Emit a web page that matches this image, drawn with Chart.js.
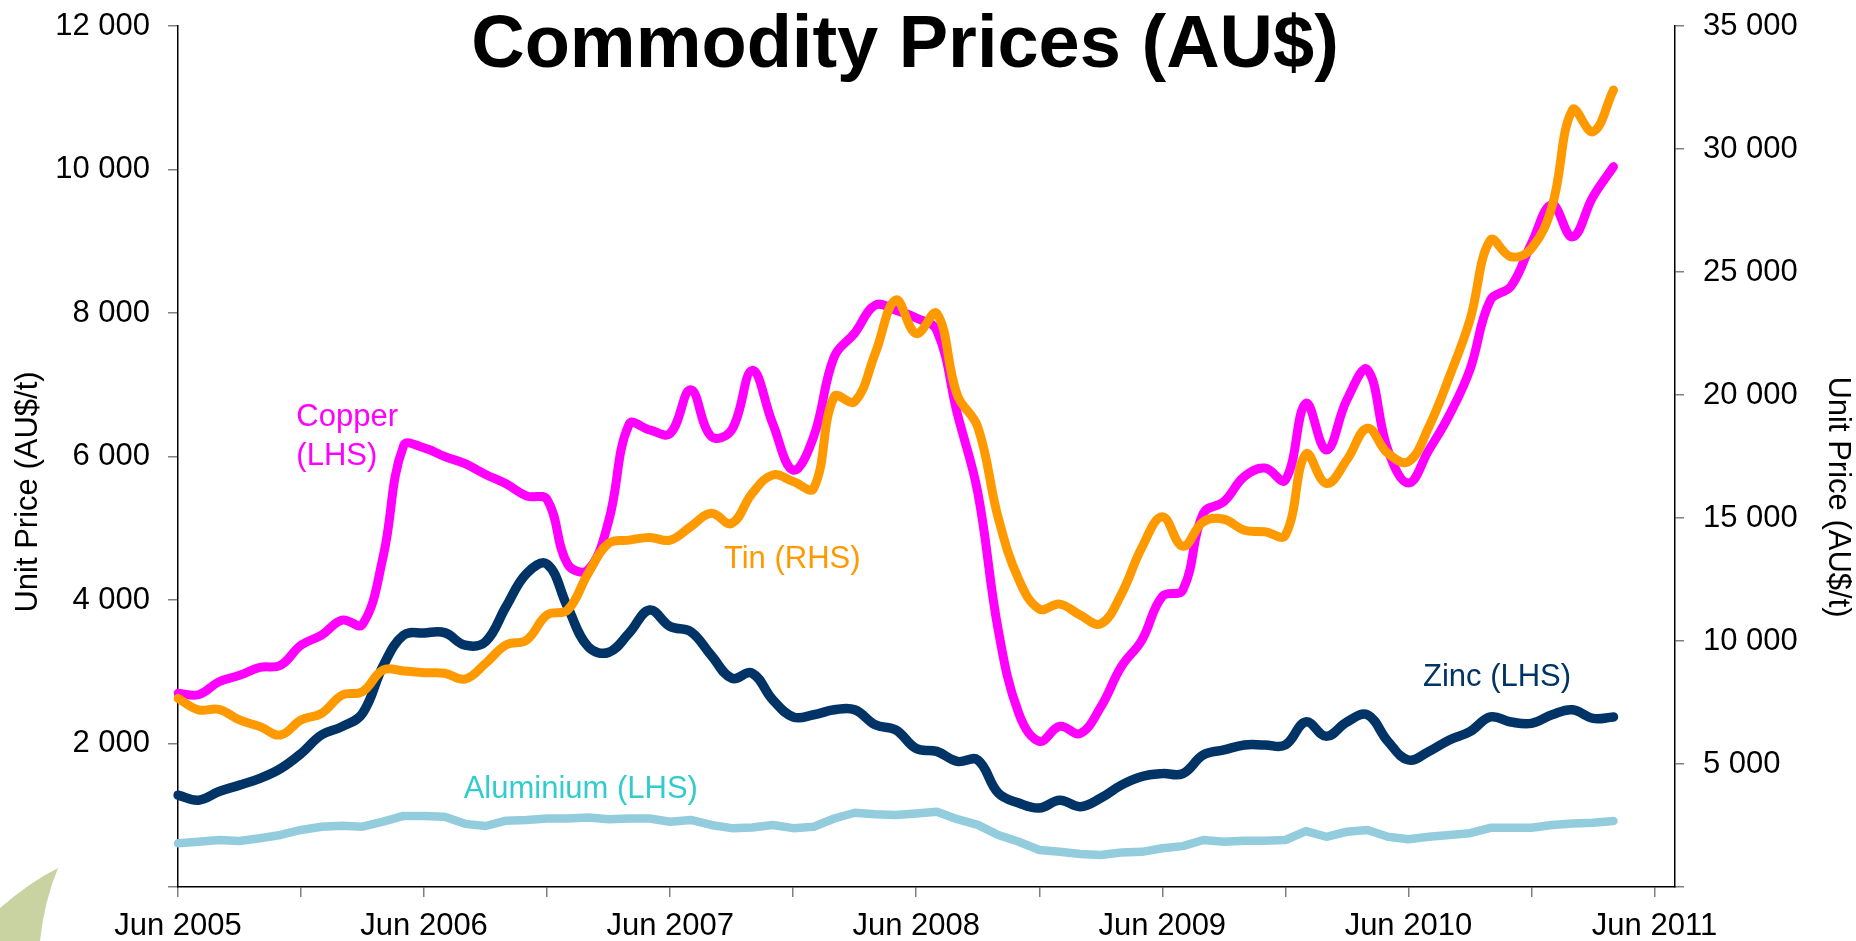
<!DOCTYPE html>
<html>
<head>
<meta charset="utf-8">
<title>Commodity Prices (AU$)</title>
<script src="https://cdn.jsdelivr.net/npm/chart.js@4.4.1/dist/chart.umd.min.js"></script>
<style>
  html, body { margin: 0; padding: 0; background: #fff; }
  #wrap { width: 1856px; height: 941px; position: relative; }
</style>
</head>
<body>
<div id="wrap"><canvas id="chart"></canvas></div>
<script>
// --- Data (monthly, Jun 2005 onwards) ---
const months = [
  'Jun 2005', 'Jul 2005', 'Aug 2005', 'Sep 2005', 'Oct 2005', 'Nov 2005', 'Dec 2005',
  'Jan 2006', 'Feb 2006', 'Mar 2006', 'Apr 2006', 'May 2006', 'Jun 2006', 'Jul 2006', 'Aug 2006', 'Sep 2006', 'Oct 2006', 'Nov 2006', 'Dec 2006',
  'Jan 2007', 'Feb 2007', 'Mar 2007', 'Apr 2007', 'May 2007', 'Jun 2007', 'Jul 2007', 'Aug 2007', 'Sep 2007', 'Oct 2007', 'Nov 2007', 'Dec 2007',
  'Jan 2008', 'Feb 2008', 'Mar 2008', 'Apr 2008', 'May 2008', 'Jun 2008', 'Jul 2008', 'Aug 2008', 'Sep 2008', 'Oct 2008', 'Nov 2008', 'Dec 2008',
  'Jan 2009', 'Feb 2009', 'Mar 2009', 'Apr 2009', 'May 2009', 'Jun 2009', 'Jul 2009', 'Aug 2009', 'Sep 2009', 'Oct 2009', 'Nov 2009', 'Dec 2009',
  'Jan 2010', 'Feb 2010', 'Mar 2010', 'Apr 2010', 'May 2010', 'Jun 2010', 'Jul 2010', 'Aug 2010', 'Sep 2010', 'Oct 2010', 'Nov 2010', 'Dec 2010',
  'Jan 2011', 'Feb 2011', 'Mar 2011', 'Apr 2011', 'May 2011', 'Jun 2011', 'Jul 2011'
]

// LHS, AU$/t
const copper = [
  2700, 2680, 2860, 2950, 3060, 3090, 3370, 3510, 3720, 3660, 4600, 6150, 6120, 6000, 5900, 5750,
  5620, 5450, 5400, 4500, 4420, 5100, 6450, 6370, 6320, 6930, 6280, 6370, 7200, 6460, 5810, 6280,
  7390, 7720, 8110, 8040, 7930, 7760, 6600, 5500, 3580, 2420, 2030, 2240, 2140, 2510, 3070, 3440,
  4050, 4140, 5210, 5370, 5720, 5840, 5670, 6740, 6090, 6790, 7210, 6090, 5630, 6090, 6580, 7210,
  8180, 8370, 8970, 9510, 9060, 9620, 10040
]
const zinc = [
  1280, 1210, 1330, 1420, 1515, 1650, 1860, 2120, 2235, 2420, 3080, 3510, 3540, 3545, 3370, 3420,
  3910, 4370, 4500, 3900, 3350, 3270, 3540, 3860, 3630, 3560, 3230, 2910, 2980, 2610, 2370, 2400,
  2470, 2470, 2260, 2190, 1930, 1890, 1750, 1770, 1310, 1170, 1100, 1210, 1120, 1240, 1420, 1540,
  1580, 1580, 1840, 1910, 1980, 1980, 1980, 2300, 2100, 2300, 2400, 2030, 1770, 1890, 2050, 2165,
  2370, 2300, 2280, 2400, 2470, 2350, 2370
]
const aluminium = [
  610, 630, 655, 640, 680, 725, 795, 840, 855, 840, 910, 990, 990, 980, 880, 850,
  925, 935, 955, 955, 970, 945, 955, 955, 910, 935, 865, 820, 830, 865, 820, 840,
  955, 1035, 1015, 1005, 1025, 1050, 945, 865, 725, 630, 515, 490, 460, 445, 480, 490,
  540, 570, 655, 630, 645, 645, 655, 780, 700, 770, 795, 700, 665, 700, 725, 750,
  825, 825, 825, 865, 885, 895, 920
]
// RHS, AU$/t
const tin = [
  7670, 7200, 7220, 6790, 6520, 6180, 6790, 7060, 7800, 7940, 8820, 8780, 8710, 8690, 8450, 9090,
  9840, 10040, 11060, 11260, 12750, 13970, 14100, 14210, 14100, 14650, 15190, 14780, 16000, 16750, 16480, 16210,
  19930, 19730, 21690, 23860, 22500, 23320, 20000, 18700, 15000, 12500, 11300, 11500, 11050, 10700, 11900, 13800,
  15050, 13850, 14850, 14950, 14500, 14440, 14300, 17600, 16400, 17360, 18650, 17630, 17290, 18710, 20750, 23050,
  26300, 25620, 25960, 27650, 31590, 30700, 32400
]

// Inline series labels: anchor = month index + LHS value
const seriesLabels = [
  { lines: ['Copper', '(LHS)'], color: '#ff00ff', month: 5.77, value: 6425 },
  { lines: ['Tin (RHS)'], color: '#ff9900', month: 26.62, value: 4442 },
  { lines: ['Zinc (LHS)'], color: '#003366', month: 60.71, value: 2808 },
  { lines: ['Aluminium (LHS)'], color: '#33cccc', month: 13.93, value: 1236 }
]

const FONT = "'Liberation Sans', Arial, Helvetica, sans-serif"

function spaced(v) {
  return String(v).replace(/\B(?=(\d{3})+(?!\d))/g, ' ')
}

// --- Plugins ---
const leafPlugin = {
  id: 'leaf',
  beforeDraw(chart) {
    const ctx = chart.ctx
    ctx.save()
    ctx.fillStyle = '#c9d3a2'
    ctx.beginPath()
    ctx.moveTo(0, 908)
    ctx.quadraticCurveTo(30, 882, 58, 868)
    ctx.quadraticCurveTo(44, 902, 40, 941)
    ctx.lineTo(0, 941)
    ctx.closePath()
    ctx.fill()
    ctx.restore()
  }
}

const textPlugin = {
  id: 'texts',
  afterDraw(chart) {
    const ctx = chart.ctx
    const xs = chart.scales.x
    const ys = chart.scales.y
    ctx.save()

    // main title
    ctx.fillStyle = '#000'
    ctx.font = `bold 74px ${FONT}`
    ctx.textAlign = 'center'
    ctx.textBaseline = 'alphabetic'
    ctx.fillText('Commodity Prices (AU$)', 905, 67)

    // axis titles
    ctx.font = `31px ${FONT}`
    ctx.textBaseline = 'middle'
    ctx.save()
    ctx.translate(28, 492)
    ctx.rotate(-Math.PI / 2)
    ctx.fillText('Unit Price (AU$/t)', 0, 0)
    ctx.restore()
    ctx.save()
    ctx.translate(1838, 497)
    ctx.rotate(Math.PI / 2)
    ctx.fillText('Unit Price (AU$/t)', 0, 0)
    ctx.restore()

    // series labels
    ctx.textAlign = 'left'
    ctx.textBaseline = 'alphabetic'
    seriesLabels.forEach(l => {
      const x = xs.getPixelForValue(l.month)
      const y = ys.getPixelForValue(l.value)
      ctx.fillStyle = l.color
      l.lines.forEach((t, i) => ctx.fillText(t, x, y + i * 39))
    })
    ctx.restore()
  }
}

// --- Chart ---
Chart.defaults.font.family = FONT
Chart.defaults.font.size = 31
Chart.defaults.color = '#000'

const lineStyle = {
  pointRadius: 0,
  pointHoverRadius: 0,
  borderWidth: 9,
  tension: 0.4,
  borderCapStyle: 'round',
  borderJoinStyle: 'round',
  fill: false
}

// pin the plot area: fixed axis boxes, no extra label overhang padding
function fixWidth(w) {
  return s => { s.width = w; s.paddingTop = 0; s.paddingBottom = 0 }
}

new Chart(document.getElementById('chart'), {
  type: 'line',
  data: {
    labels: months,
    datasets: [
      { ...lineStyle, label: 'Tin (RHS)', data: tin, borderColor: '#ff9900', yAxisID: 'y2', order: 0 },
      { ...lineStyle, label: 'Copper (LHS)', data: copper, borderColor: '#ff00ff', yAxisID: 'y', order: 1 },
      { ...lineStyle, label: 'Zinc (LHS)', data: zinc, borderColor: '#003366', borderWidth: 9.5, yAxisID: 'y', order: 2 },
      { ...lineStyle, label: 'Aluminium (LHS)', data: aluminium, borderColor: '#93cddd', borderWidth: 8.5, tension: 0, yAxisID: 'y', order: 3 }
    ]
  },
  options: {
    responsive: true,
    maintainAspectRatio: false,
    animation: false,
    devicePixelRatio: 1,
    layout: { padding: { top: 26, left: 0, right: 0, bottom: 0 } },
    plugins: {
      legend: { display: false },
      tooltip: { enabled: false },
      title: { display: false }
    },
    scales: {
      x: {
        type: 'category',
        offset: false,
        afterFit: s => { s.height = 54; s.paddingLeft = 0; s.paddingRight = 0 },
        border: { color: '#000', width: 1.5 },
        grid: { drawOnChartArea: false, drawTicks: true, tickLength: 10, color: '#808080', lineWidth: 1.5 },
        ticks: {
          autoSkip: false,
          maxRotation: 0,
          minRotation: 0,
          padding: 11,
          callback(value, index) {
            const lab = months[index]
            if (lab.startsWith('Jun')) return lab
            if (lab.startsWith('Dec')) return ''
            return null
          }
        }
      },
      y: {
        position: 'left',
        min: 0,
        max: 12000,
        afterFit: fixWidth(178),
        border: { color: '#000', width: 1.5 },
        grid: { drawOnChartArea: false, tickLength: 10, color: '#808080', lineWidth: 1.5 },
        ticks: {
          stepSize: 2000,
          padding: 18,
          callback: v => (v === 0 ? '' : spaced(v))
        }
      },
      y2: {
        position: 'right',
        min: 0,
        max: 35000,
        afterFit: fixWidth(181),
        border: { color: '#000', width: 1.5 },
        grid: { drawOnChartArea: false, tickLength: 9, color: '#808080', lineWidth: 1.5 },
        ticks: {
          stepSize: 5000,
          padding: 19,
          callback: v => (v === 0 ? '' : spaced(v))
        }
      }
    }
  },
  plugins: [leafPlugin, textPlugin]
})
</script>
</body>
</html>
